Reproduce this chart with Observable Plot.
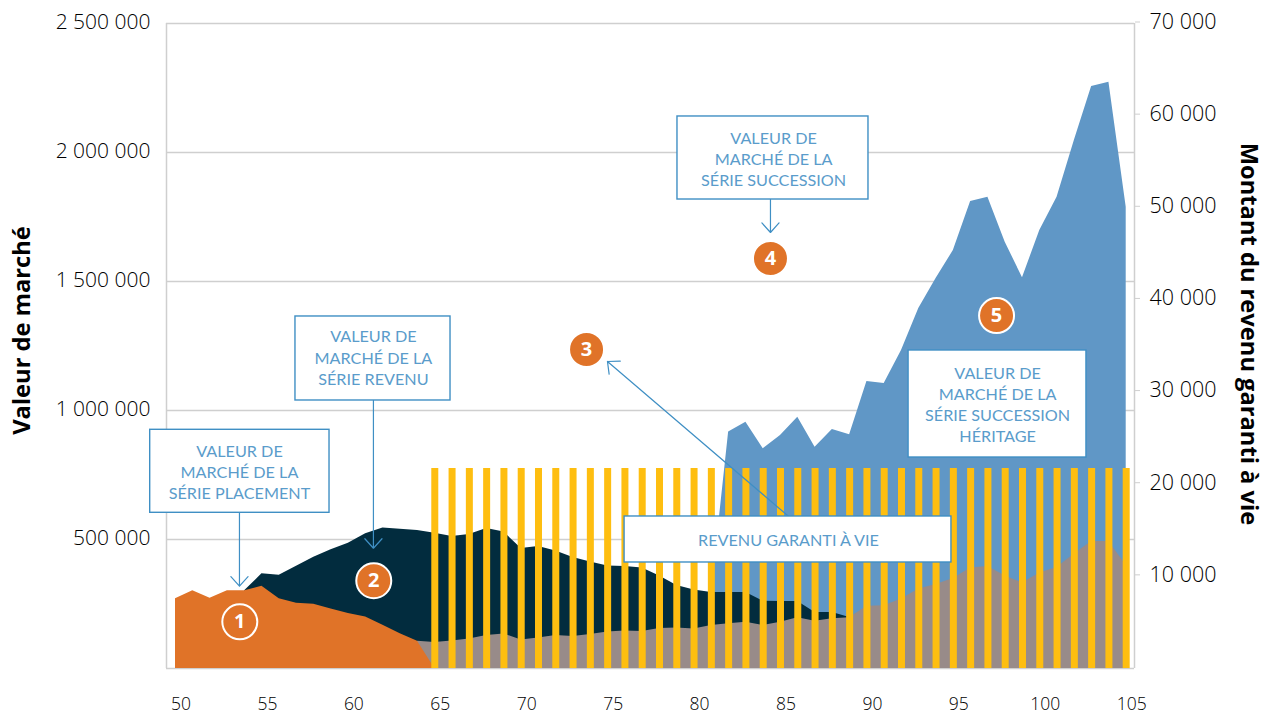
<!DOCTYPE html>
<html lang="fr">
<head>
<meta charset="utf-8">
<style>html,body{margin:0;padding:0;background:#fff}svg{display:block}</style>
<script src="https://cdn.jsdelivr.net/npm/d3@7"></script>
<script src="https://cdn.jsdelivr.net/npm/@observablehq/plot@0.6"></script>
</head>
<body>
<div id="chart"></div>
<script>
// Series values: [age, market value]
const placement = [[50,270000],[51,301000],[52,272500],[53,301000],[54,301000],[55,319000],[56,270000],[57,253000],[58,249000],[59,231000],[60,213000],[61,200000],[62,168000],[63,134500],[64,106000],[65,0]];
const revenu = [[54,301000],[55,367000],[56,361500],[57,396500],[58,431500],[59,460000],[60,485700],[61,522000],[62,545000],[63,540000],[64,535000],[65,524500],[66,511600],[67,519400],[68,542600],[69,529000],[70,465000],[71,473000],[72,455400],[73,430200],[74,412800],[75,397300],[76,395400],[77,389500],[78,358500],[79,321700],[80,304300],[81,294600],[82,294600],[83,294600],[84,261000],[85,259700],[86,259700],[87,217000],[88,217000],[89,197700]];
const succession = [[64,106000],[65,100800],[66,106600],[67,114300],[68,127900],[69,133700],[70,110500],[71,118200],[72,127900],[73,124000],[74,131800],[75,141500],[76,145400],[77,143400],[78,155000],[79,157000],[80,153100],[81,166700],[82,173300],[83,179500],[84,166700],[85,179500],[86,196500],[87,183300],[88,192600],[89,196500],[90,241500],[91,243000],[92,269400],[93,308100],[94,325600],[95,348800],[96,389500],[97,395400],[98,358500],[99,331400],[100,370200],[101,391500],[102,443800],[103,492300],[104,492300],[105,399200]];
const heritage = [[81,294600],[82,916700],[83,954700],[84,851500],[85,903100],[86,974000],[87,857700],[88,926400],[89,905800],[90,1112400],[91,1104600],[92,1232600],[93,1395300],[94,1511600],[95,1620000],[96,1810000],[97,1826800],[98,1652400],[99,1514400],[100,1697700],[101,1826800],[102,2046500],[103,2255800],[104,2272500],[105,1788000]];
const incomeAges = [65,66,67,68,69,70,71,72,73,74,75,76,77,78,79,80,81,82,83,84,85,86,87,88,89,90,91,92,93,94,95,96,97,98,99,100,101,102,103,104,105];
const guaranteedIncome = [21700,21700,21700,21700,21700,21700,21700,21700,21700,21700,21700,21700,21700,21700,21700,21700,21700,21700,21700,21700,21700,21700,21700,21700,21700,21700,21700,21700,21700,21700,21700,21700,21700,21700,21700,21700,21700,21700,21700,21700,21700];

// Tick labels
const xTicks = [50,55,60,65,70,75,80,85,90,95,100,105];
const leftTicks = [500000,1000000,1500000,2000000,2500000];
const rightTicks = [10000,20000,30000,40000,50000,60000,70000];
const xDomain = [49.479,105.48];
const yDomain = [0,2500000];
const rightMax = 70000;
const toLeft = v => v * yDomain[1] / rightMax;

// Annotations, in chart units
const boxes = [
  {x1:48.536,x2:58.91,y1:603500,y2:925200},
  {x1:56.94,x2:65.91,y1:1038800,y2:1364400},
  {x1:79.04,x2:90.09,y1:1817800,y2:2139600},
  {x1:92.41,x2:102.7,y1:817800,y2:1232600},
  {x1:75.98,x2:94.89,y1:410900,y2:589200}
];
const boxTexts = [
  {x:53.7,y:764000,t:"VALEUR DE\nMARCHÉ DE LA\nSÉRIE PLACEMENT"},
  {x:61.45,y:1208000,t:"VALEUR DE\nMARCHÉ DE LA\nSÉRIE REVENU"},
  {x:84.6,y:1978000,t:"VALEUR DE\nMARCHÉ DE LA\nSÉRIE SUCCESSION"},
  {x:97.56,y:1026000,t:"VALEUR DE\nMARCHÉ DE LA\nSÉRIE SUCCESSION\nHÉRITAGE"},
  {x:85.46,y:501000,t:"REVENU GARANTI À VIE"}
];
const arrows = [
  {x1:53.7,y1:700000,x2:53.7,y2:319000},
  {x1:61.45,y1:1100000,x2:61.45,y2:466000},
  {x1:84.42,y1:2000000,x2:84.42,y2:1690000},
  {x1:85.46,y1:590000,x2:74.99,y2:1190000}
];
const badges = [
  {x:53.72,y:181000,t:"1"},
  {x:61.47,y:340000,t:"2"},
  {x:73.78,y:1236400,t:"3"},
  {x:84.42,y:1589000,t:"4"},
  {x:97.5,y:1368000,t:"5"}
];
const axisTitles = [
  {x:41.15,y:1310000,t:"Valeur de marché",r:-90},
  {x:112.08,y:1296500,t:"Montant du revenu garanti à vie",r:90}
];

const fmt = v => d3.format(",")(v).replace(/,/g," ");
const font = "'Open Sans','Noto Sans',sans-serif";
const gridColor = "#cfcfcf", boxBlue = "#3f8fc4", textBlue = "#5a9ccb";
const area = (d, fill) => Plot.areaY(d, {x: p => p[0], y: p => p[1], fill, curve: "linear"});

const chart = Plot.plot({
  width: 1271, height: 714,
  marginLeft: 166, marginRight: 137, marginTop: 23, marginBottom: 46,
  style: {fontFamily: font, background: "#fff", color: "#000"},
  x: {domain: xDomain},
  y: {domain: yDomain},
  marks: [
    Plot.ruleY([0, ...leftTicks], {stroke: gridColor, strokeWidth: 1.3}),
    Plot.ruleX(xDomain, {stroke: gridColor, strokeWidth: 1.5}),
    area(heritage, "#6097c6"),
    area(revenu, "#022c3e"),
    area(succession, "#988b89"),
    area(placement, "#e07328"),
    Plot.ruleX(incomeAges, {x: d => d, y1: 0, y2: (d, i) => toLeft(guaranteedIncome[i]), stroke: "#febe10", strokeWidth: 7}),
    Plot.arrow(arrows, {x1:"x1",y1:"y1",x2:"x2",y2:"y2",stroke:boxBlue,strokeWidth:1.2,headLength:16,headAngle:84}),
    Plot.rect(boxes, {x1:"x1",x2:"x2",y1:"y1",y2:"y2",fill:"#fff",stroke:boxBlue,strokeWidth:1.4}),
    Plot.text(boxTexts, {x:"x",y:"y",text:"t",fill:textBlue,fontSize:16.2,fontFamily:"Lato,sans-serif",fontWeight:400,lineHeight:1.31}),
    Plot.dot(badges, {x:"x",y:"y",r:17.5,fill:"#e07328",stroke:"#fff",strokeWidth:2}),
    Plot.text(badges, {x:"x",y:"y",text:"t",fill:"#fff",fontSize:20,fontWeight:700}),
    Plot.axisY(leftTicks, {anchor:"left",tickSize:0,tickPadding:16,tickFormat:fmt,label:null,fontSize:21,fontWeight:300,dy:-1.5}),
    Plot.axisY(rightTicks.map(toLeft), {anchor:"right",tickSize:5,tickPadding:10,stroke:gridColor,tickFormat:v => fmt(Math.round(v*rightMax/yDomain[1])),label:null,fontSize:21.5,fontWeight:300,dy:-1.5}),
    Plot.axisX(xTicks, {anchor:"bottom",tickSize:0,tickPadding:29,tickFormat:d => String(d),label:null,fontSize:17.5,fontWeight:300,dx:5.5}),
    Plot.text(axisTitles, {x:"x",y:"y",text:"t",rotate:"r",fontSize:23.7,fontWeight:700,fill:"#000"})
  ]
});
document.getElementById("chart").appendChild(chart);
</script>
</body>
</html>
